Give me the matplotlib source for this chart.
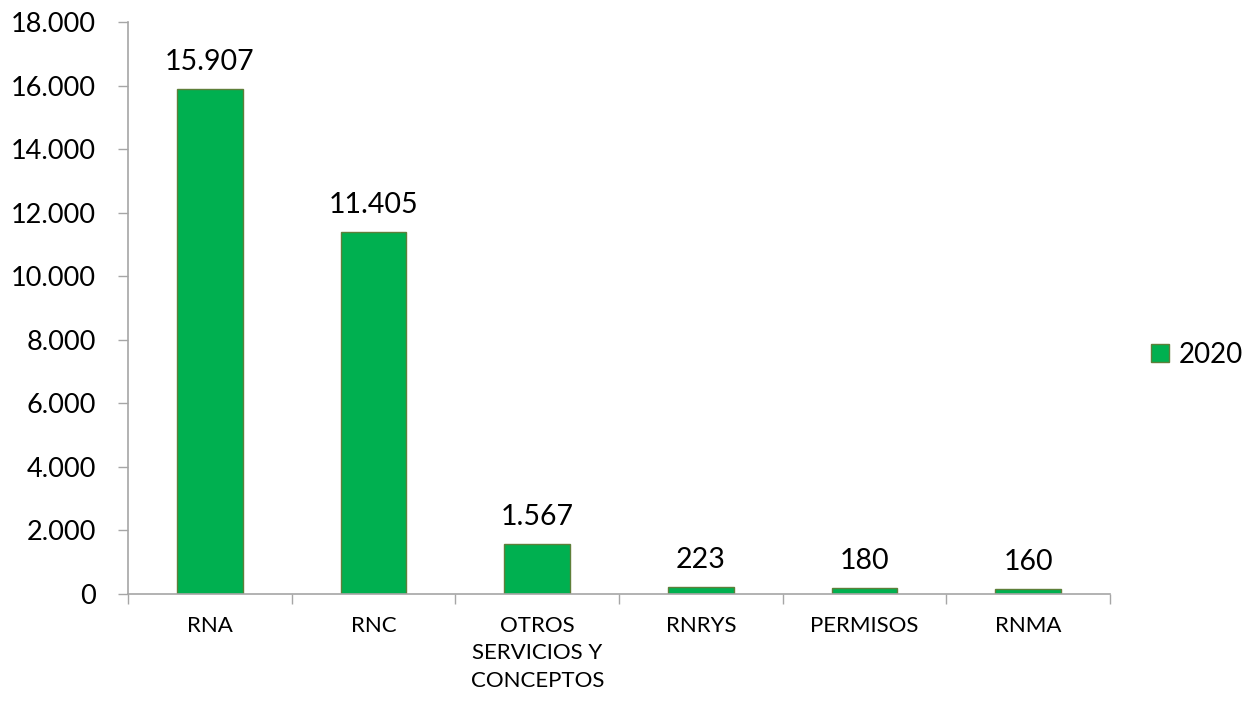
import matplotlib
matplotlib.use("Agg")
import matplotlib.pyplot as plt
import numpy as np

categories = ["RNA", "RNC", "OTROS\nSERVICIOS Y\nCONCEPTOS", "RNRYS", "PERMISOS", "RNMA"]
values_2020 = [15907, 11405, 1567, 223, 180, 160]
series_name = "2020"

BAR_COLOR = "#00B050"
EDGE_COLOR = "#5E7F3A"
AXIS_COLOR = "#A6A6A6"

plt.rcParams["font.family"] = ["Lato", "DejaVu Sans"]


def fmt_thousands(v):
    return f"{v:,.0f}".replace(",", ".")


fig = plt.figure(figsize=(12.55, 7.01), dpi=100)
ax = fig.add_axes([0.102, 0.1526, 0.7825, 0.816])

x = np.arange(len(categories))
bars = ax.bar(x, values_2020, width=0.4, color=BAR_COLOR, edgecolor=EDGE_COLOR,
              linewidth=1.0, label=series_name, zorder=2)

for xi, v in zip(x, values_2020):
    ax.text(xi, v + 440, fmt_thousands(v), ha="center", va="bottom", fontsize=20.5)

yticks = np.arange(0, 18001, 2000)
ax.set_xlim(-0.5, len(categories) - 0.5)
ax.set_ylim(0, 18000)
ax.set_yticks(yticks)
ax.set_yticklabels([fmt_thousands(t) for t in yticks], fontsize=19.5)

# category labels centered, ticks between categories
ax.set_xticks(x)
ax.set_xticklabels(categories, fontsize=16, linespacing=1.45)
ax.tick_params(axis="x", length=0, pad=16)
ax.set_xticks(np.arange(-0.5, len(categories)), minor=True)
ax.tick_params(axis="x", which="minor", length=7, width=1.0, color=AXIS_COLOR, direction="out")
ax.tick_params(axis="y", length=7, width=1.0, color=AXIS_COLOR, direction="out", pad=16)

for side in ("top", "right"):
    ax.spines[side].set_visible(False)
for side in ("left", "bottom"):
    ax.spines[side].set_color(AXIS_COLOR)
    ax.spines[side].set_linewidth(1.2)

leg = ax.legend(loc="center left", bbox_to_anchor=(1.016, 0.418), frameon=False,
                fontsize=20, handlelength=0.65, handleheight=0.65, handletextpad=0.35)

fig.savefig("out.png", dpi=100)
